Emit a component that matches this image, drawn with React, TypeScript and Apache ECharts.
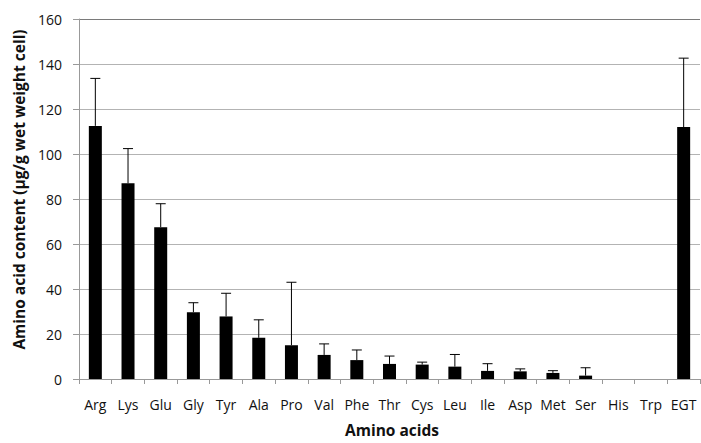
import React, { useEffect, useRef } from "react";
import * as echarts from "echarts";

const categories = ["Arg", "Lys", "Glu", "Gly", "Tyr", "Ala", "Pro", "Val", "Phe", "Thr", "Cys", "Leu", "Ile", "Asp", "Met", "Ser", "His", "Trp", "EGT"];
const values = [112.5, 87, 67.5, 29.7, 27.8, 18.3, 15.0, 10.7, 8.4, 6.7, 6.4, 5.5, 3.6, 3.4, 2.7, 1.5, 0, 0, 112];
const errorTops: (number | null)[] = [133.6, 102.4, 77.9, 33.9, 38.1, 26.3, 43.0, 15.6, 12.9, 10.2, 7.5, 10.9, 6.8, 4.5, 3.7, 5.0, null, null, 142.6];
const yTicks = { min: 0, max: 160, interval: 20 };

const FONT = "'Open Sans', Lato, sans-serif";

export default function App() {
  const ref = useRef<HTMLDivElement>(null);
  useEffect(() => {
    if (!ref.current) return;
    const chart = echarts.init(ref.current, null, { renderer: "svg" });
    const errData = categories
      .map((_, i) => (errorTops[i] == null ? null : [i, values[i], errorTops[i]]))
      .filter((d) => d !== null);
    const nLines = (yTicks.max - yTicks.min) / yTicks.interval + 1;
    const splitColors = Array.from({ length: nLines }, (_, i) => (i === nLines - 1 ? "#7a7a7a" : "#b3b3b3"));
    chart.setOption({
      animation: false,
      textStyle: { fontFamily: FONT },
      grid: { left: 79, right: 1, top: 19, bottom: 58.5, containLabel: false },
      xAxis: {
        type: "category",
        data: categories,
        name: "Amino acids",
        nameLocation: "middle",
        nameGap: 43,
        nameTextStyle: { fontSize: 15.5, fontWeight: "bold", color: "#111", fontFamily: FONT, padding: [0, 0, 0, 5] },
        axisLine: { show: true, lineStyle: { color: "#999", width: 1 } },
        axisTick: { show: true, alignWithLabel: false, length: 5, lineStyle: { color: "#999" } },
        axisLabel: { fontSize: 14, color: "#111", margin: 18, interval: 0, fontFamily: FONT },
      },
      yAxis: {
        type: "value",
        min: yTicks.min,
        max: yTicks.max,
        interval: yTicks.interval,
        name: "Amino acid content (\u00b5g/g wet weight cell)",
        nameLocation: "middle",
        nameGap: 50,
        nameTextStyle: { fontSize: 15.5, fontWeight: "bold", color: "#111", fontFamily: FONT, padding: [0, 0, 0, 19] },
        axisLine: { show: true, lineStyle: { color: "#999", width: 1 } },
        axisTick: { show: true, length: 6, lineStyle: { color: "#999" } },
        axisLabel: { fontSize: 14, color: "#111", margin: 17, fontFamily: FONT },
        splitLine: { show: true, lineStyle: { color: splitColors, width: 1 } },
      },
      series: [
        {
          type: "bar",
          data: values,
          barWidth: 13,
          itemStyle: { color: "#000" },
        },
        {
          type: "custom",
          data: errData,
          z: 3,
          renderItem: (params: any, api: any) => {
            const idx = api.value(0);
            const lo = api.coord([idx, api.value(1)]);
            const hi = api.coord([idx, api.value(2)]);
            const half = 5;
            const style = { stroke: "#000", lineWidth: 1 };
            return {
              type: "group",
              children: [
                { type: "line", shape: { x1: lo[0], y1: lo[1], x2: hi[0], y2: hi[1] }, style },
                { type: "line", shape: { x1: hi[0] - half, y1: hi[1], x2: hi[0] + half, y2: hi[1] }, style },
              ],
            };
          },
        },
      ],
    });
    return () => chart.dispose();
  }, []);
  return <div ref={ref} style={{ width: 701, height: 443, position: "absolute", left: 0, top: 0 }} />;
}
